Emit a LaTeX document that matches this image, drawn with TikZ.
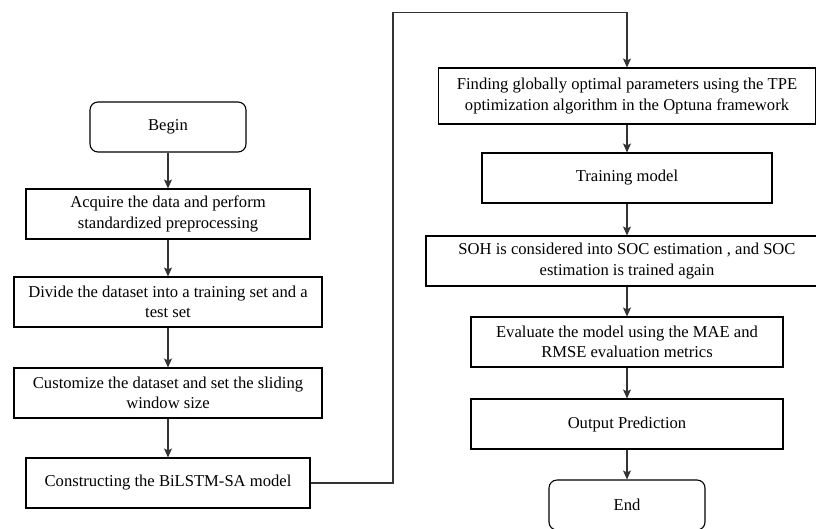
\documentclass[tikz,border=0pt]{standalone}
\usepackage{fontspec}
\setmainfont{Liberation Serif}
\usetikzlibrary{arrows.meta}
\begin{document}
\begin{tikzpicture}[x=1pt,y=-1pt,
  box/.style={draw=black, line width=1.1pt, align=center, inner sep=0pt, font=\fontsize{16.6pt}{20.5pt}\selectfont, minimum height=50pt},
  term/.style={box, rounded corners=8pt},
  arr/.style={draw=black!80, line width=1.1pt, -{Stealth[length=9pt,width=8pt,inset=2pt]}}]
\useasboundingbox (0,0) rectangle (816,528);
% left column
\node[term, minimum width=156pt] (begin) at (168,127) {Begin};
\node[box, minimum width=284pt] (acq) at (168,214) {Acquire the data and perform\\standardized preprocessing};
\node[box, minimum width=308pt] (div) at (168,302) {Divide the dataset into a training set and a\\test set};
\node[box, minimum width=308pt] (cus) at (168,393) {Customize the dataset and set the sliding\\window size};
\node[box, minimum width=284pt] (con) at (168,483) {Constructing the BiLSTM-SA model};
% right column
\node[box, minimum width=377pt, minimum height=56pt] (find) at (627,96) {Finding globally optimal parameters using the TPE\\optimization algorithm in the Optuna framework};
\node[box, minimum width=290pt] (train) at (627,178) {Training model};
\node[box, minimum width=402pt] (soh) at (627,261) {SOH is considered into SOC estimation , and SOC\\estimation is trained again};
\node[box, minimum width=312pt] (eval) at (627,342) {Evaluate the model using the MAE and\\RMSE evaluation metrics};
\node[box, minimum width=312pt] (out) at (627,424) {Output Prediction};
\node[term, minimum width=156pt] (end) at (627,505) {End};
% connectors
\draw[arr] (begin) -- (acq);
\draw[arr] (acq) -- (div);
\draw[arr] (div) -- (cus);
\draw[arr] (cus) -- (con);
\coordinate (c1) at (393,12.7);
\coordinate (c2) at (627,12.7);
\draw[arr] (con.east) -| (c1) -- (c2) -- (find.north);
\draw[arr] (find) -- (train);
\draw[arr] (train) -- (soh);
\draw[arr] (soh) -- (eval);
\draw[arr] (eval) -- (out);
\draw[arr] (out) -- (end);
\end{tikzpicture}
\end{document}
